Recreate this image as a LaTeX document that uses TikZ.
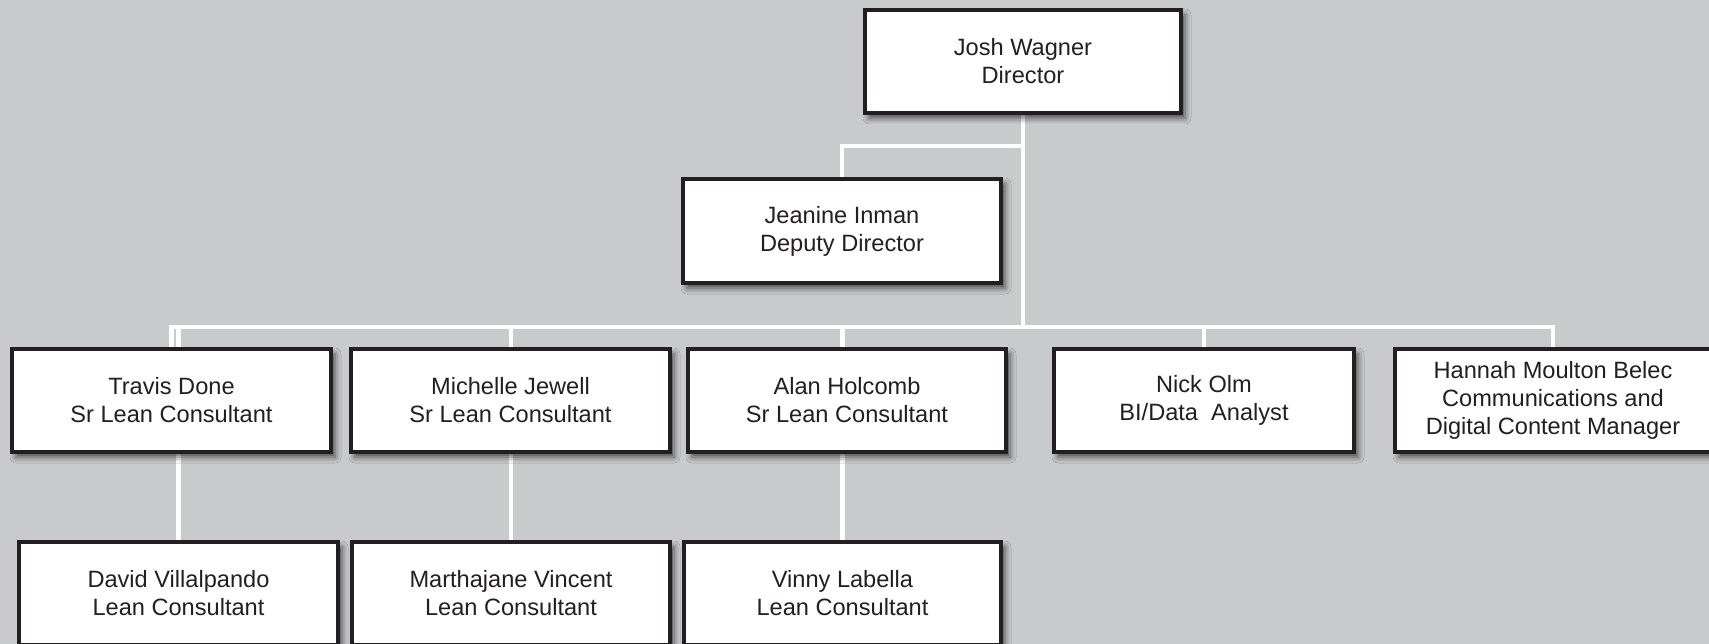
\documentclass[tikz,border=0pt]{standalone}
\usepackage{fontspec}
\setmainfont{Liberation Sans}
\usetikzlibrary{shadows.blur}
\definecolor{pagebg}{HTML}{C9CACC}
\definecolor{ink}{HTML}{231F20}
\pgfdeclarelayer{wires}
\pgfsetlayers{wires,main}
\tikzset{
  person/.style={draw=ink, line width=4pt, fill=white, text=ink,
    inner sep=0pt, align=center, minimum height=103pt,
    font=\fontsize{23.6}{28}\selectfont,
    blur shadow={shadow xshift=4pt, shadow yshift=-5pt,
      shadow blur radius=6pt, shadow opacity=65}},
  wire/.style={draw=white, line width=4.5pt}
}
\begin{document}
\begin{tikzpicture}[x=1pt, y=-1pt]
  \clip (0,0) rectangle (1709,644);
  \useasboundingbox (0,0) rectangle (1709,644);

  % people
  \node[person, minimum width=316pt] (josh) at (1023,61.5) {Josh Wagner\\Director};
  \node[person, minimum width=318pt, minimum height=104pt] (jeanine) at (842,231) {Jeanine Inman\\Deputy Director};
  \node[person, minimum width=319pt] (travis) at (171.5,400.5) {Travis Done\\Sr Lean Consultant};
  \node[person, minimum width=319pt] (michelle) at (510.5,400.5) {Michelle Jewell\\Sr Lean Consultant};
  \node[person, minimum width=318pt] (alan) at (847,400.5) {Alan Holcomb\\Sr Lean Consultant};
  \node[person, minimum width=300pt] (nick) at (1204,400.5) {Nick Olm\\BI/Data\ \ Analyst};
  \node[person, minimum width=316pt] (hannah) at (1553,400.5) {Hannah Moulton Belec\\Communications and\\Digital Content Manager};
  \node[person, minimum width=319pt] (david) at (178.5,593.5) {David Villalpando\\Lean Consultant};
  \node[person, minimum width=318pt] (martha) at (511,593.5) {Marthajane Vincent\\Lean Consultant};
  \node[person, minimum width=317pt] (vinny) at (842.5,593.5) {Vinny Labella\\Lean Consultant};

  % reporting lines, drawn beneath the boxes
  \coordinate (upper) at (0,146);
  \coordinate (bus) at (0,327);
  \begin{pgfonlayer}{wires}
    \fill[pagebg] (0,0) rectangle (1709,644);
    \draw[wire] (josh.south) -- (josh.south |- upper) -| (jeanine.north);
    \draw[wire] (josh.south) -- (josh.south |- bus) -| (travis.north);
    \draw[wire] (josh.south |- bus) -| (hannah.north);
    \draw[wire] (nick.north |- bus) -- (nick.north);
    \draw[wire] (david.north |- bus) -- (david.north);
    \draw[wire] (martha.north |- bus) -- (martha.north);
    \draw[wire] (vinny.north |- bus) -- (vinny.north);
  \end{pgfonlayer}
\end{tikzpicture}
\end{document}
